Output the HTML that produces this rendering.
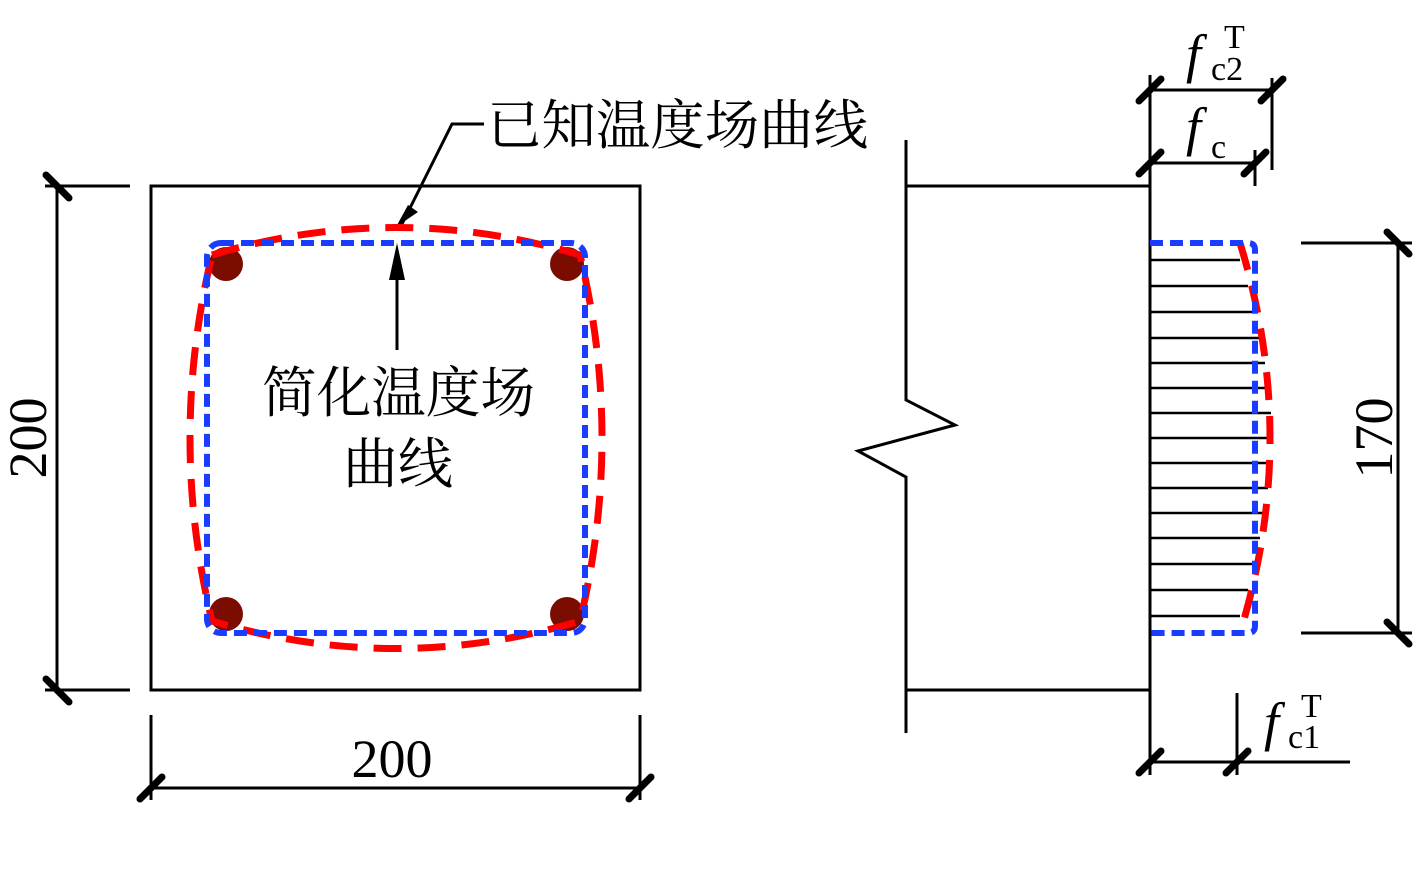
<!DOCTYPE html>
<html><head><meta charset="utf-8"><style>
html,body{margin:0;padding:0;background:#fff;}
svg{display:block}
text{font-family:"Liberation Serif","Noto Serif CJK SC",serif;fill:#000}
.cjk{font-family:"Liberation Serif","Noto Serif CJK SC","Noto Sans CJK SC",serif}
</style></head><body>
<svg width="1417" height="874" viewBox="0 0 1417 874" xmlns="http://www.w3.org/2000/svg">
<g stroke="#000" stroke-width="3" fill="none">
<rect x="151" y="186" width="489" height="504"/>
<line x1="57" y1="186" x2="57" y2="690"/>
<line x1="45" y1="186" x2="130" y2="186"/>
<line x1="45" y1="690" x2="130" y2="690"/>
<line x1="151" y1="788" x2="640" y2="788"/>
<line x1="151" y1="715" x2="151" y2="800"/>
<line x1="640" y1="715" x2="640" y2="800"/>
<polyline points="400,228 452,124 484,124"/>
<line x1="397" y1="350" x2="397" y2="270"/>
</g>
<g stroke="#000" stroke-width="7" stroke-linecap="round">
<line x1="46" y1="175" x2="69" y2="198"/>
<line x1="46" y1="679" x2="69" y2="702"/>
<line x1="140" y1="799" x2="162" y2="777"/>
<line x1="629" y1="799" x2="651" y2="777"/>
</g>
<polygon points="397,243 389,280 405,280" fill="#000"/>
<polygon points="396,227 408,205 418,212" fill="#000"/>
<g fill="#7a0c00">
<circle cx="226" cy="264" r="17"/><circle cx="567" cy="264" r="17"/>
<circle cx="226" cy="614" r="17"/><circle cx="567" cy="614" r="17"/>
</g>
<path d="M212,255 Q396,200 580,255 Q624,438 580,621 Q396,676 212,621 Q168,438 212,255 Z" fill="none" stroke="#ff0000" stroke-width="7" stroke-dasharray="28,16"/>
<rect x="207" y="243" width="378" height="390" rx="14" fill="none" stroke="#1a3cff" stroke-width="6" stroke-dasharray="13,7"/>
<text x="487" y="144" font-size="54" textLength="381" lengthAdjust="spacingAndGlyphs" class="cjk">已知温度场曲线</text>
<text x="262" y="412" font-size="55" textLength="273" lengthAdjust="spacingAndGlyphs" class="cjk">简化温度场</text>
<text x="398" y="483" font-size="55" text-anchor="middle" class="cjk">曲线</text>
<text x="392" y="777" font-size="54" text-anchor="middle">200</text>
<text transform="translate(46,438) rotate(-90)" font-size="54" text-anchor="middle">200</text>

<g stroke="#000" stroke-width="3" fill="none">
<polyline points="906,140 906,400 955,425 858,451 906,477 906,733"/>
<line x1="906" y1="186" x2="1150" y2="186"/>
<line x1="906" y1="690" x2="1150" y2="690"/>
<line x1="1150" y1="75" x2="1150" y2="775"/>
<line x1="1150" y1="90" x2="1272" y2="90"/>
<line x1="1272" y1="78" x2="1272" y2="170"/>
<line x1="1150" y1="163" x2="1255" y2="163"/>
<line x1="1255" y1="150" x2="1255" y2="186"/>
<line x1="1150" y1="762" x2="1350" y2="762"/>
<line x1="1237" y1="693" x2="1237" y2="775"/>
<line x1="1398" y1="243" x2="1398" y2="633"/>
<line x1="1301" y1="243" x2="1412" y2="243"/>
<line x1="1301" y1="633" x2="1412" y2="633"/>
</g>
<g stroke="#000" stroke-width="2.5">
<line x1="1150" y1="260" x2="1240" y2="260"/>
<line x1="1150" y1="286" x2="1248" y2="286"/>
<line x1="1150" y1="312" x2="1254" y2="312"/>
<line x1="1150" y1="338" x2="1260" y2="338"/>
<line x1="1150" y1="363" x2="1265" y2="363"/>
<line x1="1150" y1="388" x2="1268" y2="388"/>
<line x1="1150" y1="413" x2="1271" y2="413"/>
<line x1="1150" y1="438" x2="1272" y2="438"/>
<line x1="1150" y1="463" x2="1271" y2="463"/>
<line x1="1150" y1="488" x2="1268" y2="488"/>
<line x1="1150" y1="513" x2="1265" y2="513"/>
<line x1="1150" y1="538" x2="1260" y2="538"/>
<line x1="1150" y1="564" x2="1254" y2="564"/>
<line x1="1150" y1="590" x2="1248" y2="590"/>
<line x1="1150" y1="616" x2="1240" y2="616"/>
</g>
<g stroke="#000" stroke-width="7" stroke-linecap="round">
<line x1="1139" y1="101" x2="1161" y2="79"/>
<line x1="1261" y1="101" x2="1283" y2="79"/>
<line x1="1139" y1="174" x2="1161" y2="152"/>
<line x1="1244" y1="174" x2="1266" y2="152"/>
<line x1="1139" y1="773" x2="1161" y2="751"/>
<line x1="1226" y1="773" x2="1248" y2="751"/>
<line x1="1387" y1="232" x2="1409" y2="254"/>
<line x1="1387" y1="622" x2="1409" y2="644"/>
</g>
<path d="M1240,243 Q1300,438 1240,633" fill="none" stroke="#ff0000" stroke-width="7" stroke-dasharray="28,16"/>
<path d="M1150,243 H1248 Q1255,243 1255,250 V626 Q1255,633 1248,633 H1150" fill="none" stroke="#1a3cff" stroke-width="6" stroke-dasharray="13,7"/>
<text transform="translate(1392,438) rotate(-90)" font-size="54" text-anchor="middle">170</text>
<g font-size="54">
<text x="1186" y="72" font-style="italic">f</text>
<text x="1211" y="80" font-size="34">c2</text>
<text x="1224" y="48" font-size="34">T</text>
<text x="1186" y="145" font-style="italic">f</text>
<text x="1211" y="158" font-size="34">c</text>
<text x="1264" y="740" font-style="italic">f</text>
<text x="1288" y="748" font-size="34">c1</text>
<text x="1301" y="717" font-size="34">T</text>
</g>
</svg>
</body></html>
